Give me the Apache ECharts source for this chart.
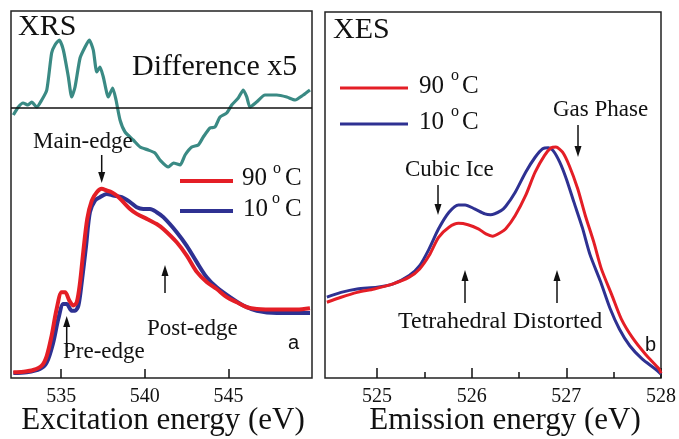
<!DOCTYPE html>
<html>
<head>
<meta charset="utf-8">
<script src="https://cdn.jsdelivr.net/npm/echarts@6/dist/echarts.min.js"></script>
<style>html,body{margin:0;padding:0;background:#fff}#c{width:679px;height:439px}</style>
</head>
<body>
<div id="c"></div>
<script>
// ---- XRS difference (x5) ----
const diffX = [532.14,532.44,532.72,533.02,533.24,533.54,533.84,534.14,534.43,534.63,534.89,535.13,535.43,535.63,535.83,536.13,536.43,536.68,536.92,537.13,537.32,537.52,537.82,538.08,538.28,538.52,538.82,539.31,539.72,540.21,540.61,540.91,541.41,541.71,542.11,542.41,542.81,543.20,543.50,543.90,544.20,544.50,544.90,545.20,545.59,545.89,546.10,546.29,546.69,547.19,547.89,548.49,548.99,549.48,549.88];
const diffY = [-0.07,0.01,0.05,0.03,0.06,0.01,0.08,0.18,0.55,0.63,0.68,0.58,0.31,0.11,0.21,0.50,0.61,0.68,0.58,0.36,0.41,0.31,0.11,0.20,0.08,-0.12,-0.24,-0.32,-0.39,-0.42,-0.45,-0.52,-0.59,-0.55,-0.57,-0.47,-0.39,-0.37,-0.29,-0.20,-0.19,-0.09,-0.05,0.03,0.10,0.18,0.11,0.01,0.06,0.13,0.13,0.11,0.08,0.13,0.18];
// ---- XRS spectra ----
const xrs90X = [532.14,532.74,533.33,533.84,534.14,534.43,534.73,535.03,535.23,535.49,535.73,535.93,536.13,536.32,536.56,536.83,537.13,537.42,537.72,538.02,538.32,538.72,539.12,539.52,540.12,540.31,540.71,541.11,541.91,542.51,543.11,543.70,544.30,544.90,545.50,546.10,546.70,547.89,549.09,549.88];
const xrs90Y = [0.030,0.033,0.042,0.065,0.117,0.223,0.363,0.451,0.451,0.407,0.381,0.398,0.504,0.662,0.837,0.933,0.977,0.995,0.986,0.977,0.960,0.925,0.889,0.863,0.837,0.828,0.810,0.784,0.714,0.644,0.558,0.505,0.468,0.425,0.398,0.372,0.363,0.360,0.360,0.367];
const xrs10X = [532.14,532.94,533.73,534.14,534.53,534.83,535.13,535.33,535.63,535.83,536.03,536.23,536.49,536.72,537.02,537.32,537.72,538.12,538.62,539.12,539.52,539.91,540.31,540.71,541.11,541.91,542.51,543.11,543.70,544.30,545.10,545.89,546.70,547.89,549.09,549.88];
const xrs10Y = [0.026,0.030,0.047,0.082,0.188,0.311,0.389,0.389,0.354,0.354,0.381,0.504,0.696,0.872,0.933,0.951,0.968,0.960,0.951,0.925,0.898,0.889,0.889,0.872,0.846,0.767,0.695,0.609,0.530,0.477,0.425,0.381,0.354,0.342,0.342,0.342];
// ---- XES spectra ----
const xes10X = [524.47,524.62,524.79,525.00,525.17,525.34,525.45,525.55,525.65,525.76,525.86,525.93,526.03,526.14,526.20,526.31,526.36,526.46,526.57,526.67,526.75,526.81,526.86,526.93,527.00,527.08,527.17,527.25,527.36,527.46,527.56,527.67,527.80,527.94,528.00];
const xes10Y = [0.351,0.372,0.387,0.394,0.409,0.445,0.488,0.561,0.648,0.720,0.752,0.752,0.735,0.713,0.709,0.727,0.746,0.807,0.894,0.959,0.996,1.000,0.988,0.938,0.865,0.764,0.652,0.536,0.420,0.304,0.213,0.140,0.083,0.039,0.017];
const xes90X = [524.47,524.62,524.79,524.97,525.17,525.34,525.45,525.55,525.65,525.76,525.86,525.96,526.07,526.15,526.22,526.31,526.36,526.46,526.57,526.67,526.77,526.84,526.89,526.96,527.03,527.12,527.20,527.29,527.37,527.48,527.58,527.70,527.84,527.98,528.00];
const xes90Y = [0.329,0.351,0.372,0.387,0.409,0.438,0.474,0.532,0.611,0.655,0.672,0.666,0.648,0.626,0.616,0.633,0.648,0.706,0.793,0.894,0.967,1.000,1.003,0.981,0.923,0.822,0.706,0.590,0.474,0.361,0.257,0.174,0.101,0.039,0.020];
// ---- ticks ----
const xrsTicks = [535,540,545];
const xesTicks = [525,526,527,528];
const xesMinorTicks = [525.5,526.5,527.5];

const zip = (a,b) => a.map((v,i)=>[v,b[i]]);
const RED = '#e41e26', BLUE = '#2e3192', TEAL = '#3a8a84';
const SERIF = '"Liberation Serif","Times New Roman",serif';
const SANS = '"Liberation Sans",Arial,sans-serif';

function txt(text, x, y, size, opts) {
  opts = opts || {};
  return {type:'text', x:x, y:y, z:100, style:{text:text, font: size+'px '+(opts.sans?SANS:SERIF), fill:'#111', align: opts.align||'left', verticalAlign:'middle'}};
}
function arrow(x, y1, tip) {
  const dir = tip > y1 ? 1 : -1;
  return [
    {type:'line', z:100, shape:{x1:x, y1:y1, x2:x, y2:tip - dir*8}, style:{stroke:'#111', lineWidth:1.5}},
    {type:'polygon', z:100, shape:{points:[[x,tip],[x-3.5,tip-dir*11],[x+3.5,tip-dir*11]]}, style:{fill:'#111'}}
  ];
}
function legendLine(x1, x2, y, color, w) {
  return {type:'line', z:100, shape:{x1:x1,y1:y,x2:x2,y2:y}, style:{stroke:color, lineWidth:w}};
}

const graphics = [
  txt('XRS', 18, 26.8, 30),
  txt('Difference x5', 132, 67.3, 30),
  txt('Main-edge', 33, 142.2, 23),
  txt('Pre-edge', 63, 352.2, 23),
  txt('Post-edge', 147, 328.9, 23),
  txt('a', 288, 343.1, 20, {sans:true}),
  txt('XES', 333, 29.8, 30),
  txt('Gas Phase', 553, 110.2, 23),
  txt('Cubic Ice', 405, 170.2, 23),
  txt('Tetrahedral Distorted', 398, 321.8, 24),
  txt('b', 645, 345.2, 20, {sans:true}),
  txt('Excitation energy (eV)', 163, 420.5, 31, {align:'center'}),
  txt('Emission energy (eV)', 505, 420.5, 31, {align:'center'}),
  // left legend
  legendLine(180, 233, 181, RED, 4),
  legendLine(180, 233, 211, BLUE, 4),
  txt('90', 242, 178.5, 25), txt('o', 273, 168.3, 16), txt('C', 285, 178.5, 25),
  txt('10', 243, 209.5, 25), txt('o', 272, 198.3, 16), txt('C', 285, 209.5, 25),
  // right legend
  legendLine(340, 408, 88, RED, 3),
  legendLine(340, 408, 124, BLUE, 3),
  txt('90', 419, 86.5, 25), txt('o', 451, 75.3, 16), txt('C', 462, 86.5, 25),
  txt('10', 419, 122.5, 25), txt('o', 451, 111.3, 16), txt('C', 462, 122.5, 25),
  ...arrow(101.7, 155, 183),
  ...arrow(66.7, 347, 316),
  ...arrow(165, 293, 265),
  ...arrow(578, 125, 157),
  ...arrow(438, 185, 215),
  ...arrow(465, 303, 270),
  ...arrow(557, 303, 270)
];

const tickStyle = {color:'#111', width:1.5};
const labelStyle = {fontFamily:SERIF, fontSize:20, color:'#111', margin:9};

const option = {
  animation:false,
  backgroundColor:'#fff',
  grid:[
    {left:11, top:11, width:301, height:367, show:true, borderColor:'#222', borderWidth:1.5, backgroundColor:'transparent'},
    {left:325, top:12, width:344, height:366, show:true, borderColor:'#222', borderWidth:1.5, backgroundColor:'transparent'}
  ],
  xAxis:[
    {gridIndex:0, type:'value', min:532, max:550, axisLine:{show:false}, splitLine:{show:false},
     axisTick:{show:true, inside:true, length:9, lineStyle:tickStyle, customValues:xrsTicks},
     axisLabel:Object.assign({customValues:xrsTicks}, labelStyle)},
    {gridIndex:1, type:'value', min:524.45, max:528, axisLine:{show:false}, splitLine:{show:false},
     axisTick:{show:true, inside:true, length:10, lineStyle:tickStyle, customValues:xesTicks},
     axisLabel:Object.assign({customValues:xesTicks}, labelStyle)},
    {gridIndex:1, type:'value', position:'bottom', min:524.45, max:528, axisLine:{show:false}, splitLine:{show:false},
     axisTick:{show:true, inside:true, length:6, lineStyle:tickStyle, customValues:xesMinorTicks},
     axisLabel:{show:false}}
  ],
  yAxis:[
    {gridIndex:0, type:'value', min:0, max:1.93, show:false},
    {gridIndex:0, type:'value', min:-2.70, max:0.97, show:false},
    {gridIndex:1, type:'value', min:0, max:1.59, show:false}
  ],
  series:[
    {type:'line', xAxisIndex:0, yAxisIndex:1, data:zip(diffX,diffY), showSymbol:false, smooth:0.2,
     lineStyle:{color:TEAL, width:3.2}, itemStyle:{color:TEAL},
     markLine:{silent:true, symbol:['none','none'], label:{show:false}, lineStyle:{color:'#111', width:1.5, type:'solid'}, data:[{yAxis:0}]}},
    {type:'line', xAxisIndex:0, yAxisIndex:0, data:zip(xrs10X,xrs10Y), showSymbol:false, smooth:0.3,
     lineStyle:{color:BLUE, width:4}, itemStyle:{color:BLUE}},
    {type:'line', xAxisIndex:0, yAxisIndex:0, data:zip(xrs90X,xrs90Y), showSymbol:false, smooth:0.3,
     lineStyle:{color:RED, width:4}, itemStyle:{color:RED}},
    {type:'line', xAxisIndex:1, yAxisIndex:2, data:zip(xes10X,xes10Y), showSymbol:false, smooth:0.25,
     lineStyle:{color:BLUE, width:3}, itemStyle:{color:BLUE}},
    {type:'line', xAxisIndex:1, yAxisIndex:2, data:zip(xes90X,xes90Y), showSymbol:false, smooth:0.25,
     lineStyle:{color:RED, width:3}, itemStyle:{color:RED}}
  ],
  graphic:graphics
};
const chart = echarts.init(document.getElementById('c'), null, {renderer:'canvas'});
chart.setOption(option);
</script>
</body>
</html>
